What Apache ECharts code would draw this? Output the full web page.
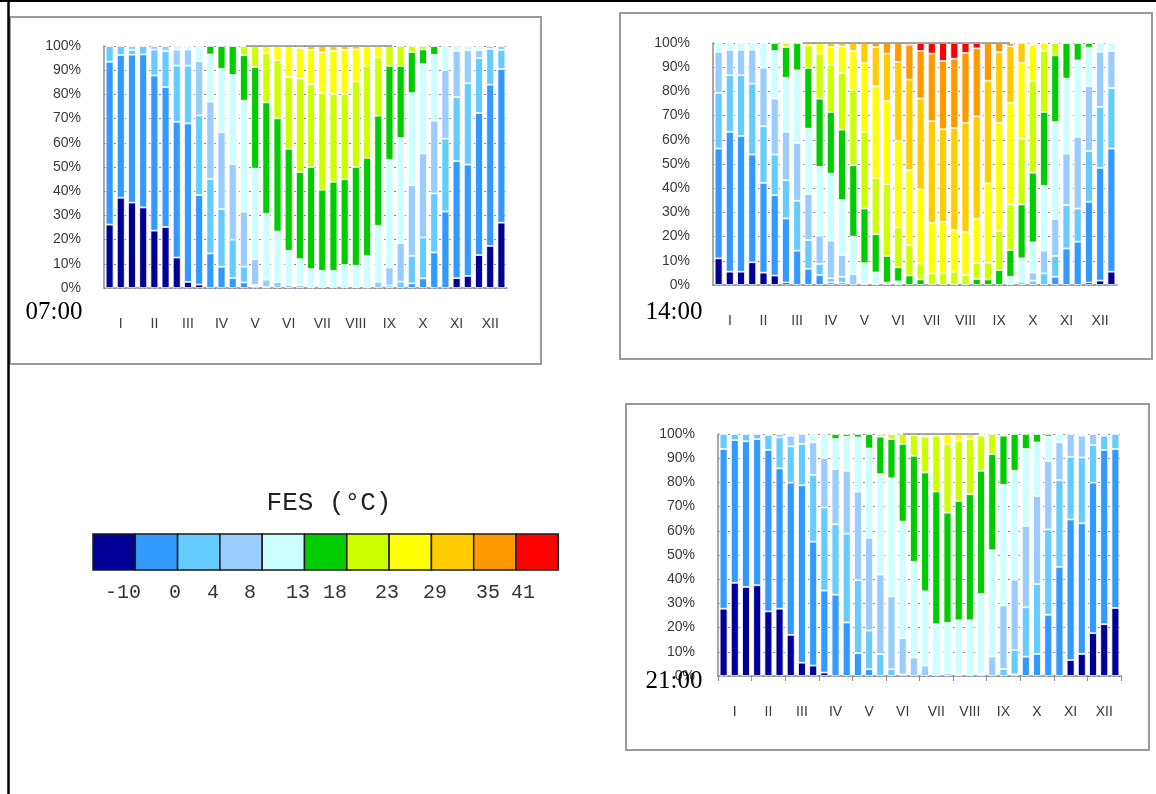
<!DOCTYPE html>
<html><head><meta charset="utf-8">
<script src="https://cdn.jsdelivr.net/npm/echarts@6/dist/echarts.min.js"></script>
<style>html,body{margin:0;padding:0;background:#fff}#c{width:1156px;height:794px}</style>
</head><body><div id="c"></div>
<script>
// ---- data ----
const months = ['I','II','III','IV','V','VI','VII','VIII','IX','X','XI','XII'];
const classColors = ['#000096','#3399ff','#66ccff','#99ccff','#ccffff','#00cc00','#ccff00','#ffff00','#ffcc00','#ff9900','#ff0000'];
const classNames = ['< -10','-10 – 0','0 – 4','4 – 8','8 – 13','13 – 18','18 – 23','23 – 29','29 – 35','35 – 41','> 41'];
const legendTicks = ['-10','0','4','8','13','18','23','29','35','41'];
const legendTitle = 'FES (°C)';
const timeLabels = ['07:00','14:00','21:00'];

// cumulative upper boundary (%) of each FES class, per 10-day bar (3 per month)
const tops07 = [
 [26.2,93.5,100],[37.3,96.3,100],[35.3,96.4,98.4,100],
 [33.3,96.5,100],[23.7,87.8,98.5,100],[25.2,83,97.9,100],
 [12.6,68.7,91.9,98.5,100],[2.5,68,91.9,98.5,100],[1.4,38.4,71.3,93.7,100],
 [0,14.3,45,77,96.5,100],[0,8.8,32.7,64.4,90.6,100],[0,4.1,20,51.2,88,100],
 [0,2.3,8.8,31.5,77.4,96.2,100],[0,0.8,1.3,11.9,49.3,91.3,100],[0,0,0.3,3.5,30.7,76.7,97,100],
 [0,0,0,2.4,23.3,70.1,94.2,100],[0,0,0,1.3,15.4,57.5,87.2,100],[0,0,0,1.2,11.9,47.9,86.6,99.2,100],
 [0,0,0,0.3,7.8,50,84.2,98.4,100],[0,0,0,0,7.1,40.6,80.5,97.4,100],[0,0,0,0,7.1,43.9,80.1,98,100],
 [0,0,0,0,9.5,44.9,80.1,98.4,100],[0,0,0,0,9.2,50,85.3,98.6,100],[0,0,0,0.3,13.3,53.8,91.9,100],
 [0,0,0,2.6,25.7,71.2,95.3,100],[0,0,1,8.5,53,91.8,100],[0,0,2.6,18.5,62,91.8,100],
 [0,1.9,13.3,42.5,80.5,97.5,100],[0,4,20.9,55.6,92.6,98.6,100],[0,14.7,39.1,69.1,96.3,100],
 [0,31.6,61.7,90.1,100],[4.1,52.4,78.9,98,100],[5,51,84.6,98.3,100],
 [13.6,72.3,95,98.3,100],[17.4,84,98.8,100],[27,90.5,98.4,100]
];
const tops14 = [
 [11,56.4,79.4,96.3,100],[5.5,63.3,86.7,97.2,100],[5.5,61.6,86.7,97.2,100],
 [9.4,53.9,83.2,97.2,100],[5.1,42.2,65.6,89.8,100],[3.9,37.1,53.9,77,96.7,100],
 [1,27.5,43.3,63.3,85.6,98.3,100],[0,14.2,34.8,58.7,88.7,100],[0,6.7,18.6,37.6,64.6,89.7,99,100],
 [0,4.1,8.7,20.4,48.8,77,95.6,100],[0,1.1,2.8,18.3,46,71.5,90.8,98.3,100],[0,1,3.4,12.4,35.1,64.2,87.6,98.6,100],
 [0,0,0,4.5,20,49.5,80.7,96.7,100],[0,0,0,0.7,9,31.6,63.3,91.7,100],[0,0,0,0,5.2,21,44.3,82.1,98.3,100],
 [0,0,0,0,1,12,41.7,76,95.6,100],[0,0,0,0,1.5,7.3,23.8,59.6,92.2,100],[0,0,0,0,0,3.9,16.5,47.5,84.9,99.3,100],
 [0,0,0,0,0,2.3,8.9,39.5,77,96.7,100],[0,0,0,0,0,0,4.8,25.7,67.7,95.6,100],[0,0,0,0,0,0,4.8,26.1,64.4,92.6,100],
 [0,0,0,0,0,0,5.5,22.7,64.9,93.5,100],[0,0,0,0,0,0,4.1,22,67,95.9,100],[0,0,0,0,0,2.5,9,27.4,69.7,97.8,100],
 [0,0,0,0,0,2.3,9.2,42,84.4,100],[0,0,0,0,0,6.2,22.4,67,96.2,100],[0,0,0,0,3.4,14.4,33.3,75.2,98.6,100],
 [0,0,0,1.4,11,33.3,60.5,91.7,100],[0,0,1.8,5.1,17.6,46.4,84.2,99.3,100],[0,0,4.8,14.2,41,71.5,96.7,100],
 [0,3.4,12,27.2,67.4,94.9,100],[0,15.1,33,54.3,85.3,100],[0,17.9,31.6,61.2,92.8,100],
 [1,34.4,55.4,82.1,98.1,100],[1.8,48.4,73.6,96.3,100],[5.5,56.4,81.4,96.7,100]
];
const tops21 = [
 [27.8,93.8,100],[38.5,97.5,100],[36.8,97,100],
 [37.5,97.9,100],[26.7,93.4,99.6,100],[27.8,85.8,98.6,100],
 [17,79.9,94.9,99.3,100],[5.5,78.8,95.9,100],[4.3,55.5,83.1,96.5,100],
 [1.4,35.3,69.6,90,100],[0,33.6,62.7,85.5,97.9,100],[0,22.1,58.8,84.8,98.9,100],
 [0,9.5,39.6,76.2,98.6,100],[0,2.8,18.8,57.1,94,100],[0,0,9.1,41.9,83.4,98.9,100],
 [0,0,2.8,32.9,81.7,97.9,100],[0,0,0.7,15.6,63.8,95.9,100],[0,0,0,7.6,47.2,91,99.6,100],
 [0,0,0,4.3,35,84.1,98.9,100],[0,0,0,0,21.4,76.2,99.3,100],[0,0,0,1.1,21.9,67.5,95.9,100],
 [0,0,0,0.7,23,72.3,97,100],[0,0,0,0,23,75.1,97.9,100],[0,0,0,0.7,33.9,84.8,99.3,100],
 [0,0,0,8,52,91.7,100],[0,0,2.9,29.2,79,99.3,100],[0,0.7,10.8,39.8,84.8,100],
 [0,8,28.4,62,93.8,100],[0,9.1,38,74.4,96.5,100],[0,25.3,60.6,88.9,98.9,100],
 [0,45.1,81,96.5,100],[6.6,64.7,90.6,100],[9.1,63.1,90.3,99.3,100],
 [17.7,79.9,95.4,100],[21.4,93.4,99.3,100],[28.1,93.8,100]
];

// ---- build ----
const categories = months.flatMap(m => [m + '.1', m + '.2', m + '.3']);
function classShares(tops, k) {
  return tops.map(t => {
    const hi = k < t.length ? t[k] : 100;
    const lo = k === 0 ? 0 : (k - 1 < t.length ? t[k - 1] : 100);
    const v = +(hi - lo).toFixed(2);
    return v > 0 ? v : null;
  });
}
const panels = [tops07, tops14, tops21];
const grids = [
  {left: 104, top: 46, width: 403, height: 242},
  {left: 713, top: 43, width: 404, height: 242},
  {left: 718, top: 434, width: 403, height: 242}
];
const axisCol = '#8c8c8c';
const xAxes = grids.map((g, i) => ({
  type: 'category', gridIndex: i, data: categories,
  axisLine: {show: true, lineStyle: {color: axisCol, width: 1.5}},
  axisTick: i === 2 ? {show: true, interval: idx => idx % 3 === 0, length: 5, lineStyle: {color: axisCol}} : {show: false},
  axisLabel: {interval: idx => idx % 3 === 1, formatter: v => v.split('.')[0], margin: 29,
    fontFamily: 'Liberation Sans', fontSize: 14, color: '#3a3a3a'},
  splitLine: {show: false}
}));
const yAxes = grids.map((g, i) => ({
  type: 'value', gridIndex: i, min: 0, max: 100, interval: 10,
  axisLine: {show: true, lineStyle: {color: axisCol, width: 1.5}},
  axisTick: {show: false},
  axisLabel: {formatter: '{value}%', margin: 23, fontFamily: 'Liberation Sans', fontSize: 14, color: '#3a3a3a'},
  splitLine: {show: true, lineStyle: {color: '#8a8a8a', type: [2, 3], width: 1}}
}));
const series = [];
panels.forEach((tops, p) => {
  classColors.forEach((col, k) => {
    series.push({
      type: 'bar', name: classNames[k], stack: 'p' + p, xAxisIndex: p, yAxisIndex: p,
      data: classShares(tops, k), barCategoryGap: '30%',
      itemStyle: {color: col, borderColor: '#ffffff', borderWidth: 0.8},
      silent: true, animation: false
    });
  });
});

// ---- decorations (frames, time labels, legend) ----
const graphic = [];
[[10, 17, 531, 347], [620, 13, 532, 346], [626, 404, 523, 346]].forEach(r => {
  graphic.push({type: 'rect', shape: {x: r[0], y: r[1], width: r[2], height: r[3]},
    style: {fill: null, stroke: '#9a9a9a', lineWidth: 2}, z: 0});
});
// partial plot-area top border visible in the reference
[[246, 392, 46], [803, 1010, 43], [903, 979, 434]].forEach(s => {
  graphic.push({type: 'line', shape: {x1: s[0], y1: s[2], x2: s[1], y2: s[2]},
    style: {stroke: '#8c8c8c', lineWidth: 1.5}, z: 50});
});
graphic.push({type: 'line', shape: {x1: 0, y1: 1, x2: 1156, y2: 1}, style: {stroke: '#000', lineWidth: 2}});
graphic.push({type: 'line', shape: {x1: 8.5, y1: 0, x2: 8.5, y2: 794}, style: {stroke: '#000', lineWidth: 2.5}});
const timePos = [[54, 312], [674, 312], [674, 681]];
timeLabels.forEach((t, i) => {
  graphic.push({type: 'text', x: timePos[i][0], y: timePos[i][1], z: 100,
    style: {text: t, font: '25px "Liberation Serif"', fill: '#000', align: 'center', verticalAlign: 'middle'}});
});
const lgX = 93, lgY = 534, lgW = 42.3, lgH = 36;
classColors.forEach((c, k) => {
  graphic.push({type: 'rect', shape: {x: lgX + k * lgW, y: lgY, width: lgW, height: lgH},
    style: {fill: c, stroke: '#1a1a1a', lineWidth: 1.5}});
});
graphic.push({type: 'text', x: 329, y: 503, style: {text: legendTitle, font: '26px "Liberation Mono"', fill: '#222', align: 'center', verticalAlign: 'middle'}});
const legendLabelX = [123, 175, 213, 250, 298, 335, 387, 435, 488, 523];
legendTicks.forEach((t, i) => {
  graphic.push({type: 'text', x: legendLabelX[i], y: 593,
    style: {text: t, font: '20px "Liberation Mono"', fill: '#333', align: 'center', verticalAlign: 'middle'}});
});

const chart = echarts.init(document.getElementById('c'), null, {renderer: 'canvas'});
chart.setOption({
  backgroundColor: '#ffffff', animation: false,
  grid: grids, xAxis: xAxes, yAxis: yAxes, series: series, graphic: graphic
});
</script></body></html>
